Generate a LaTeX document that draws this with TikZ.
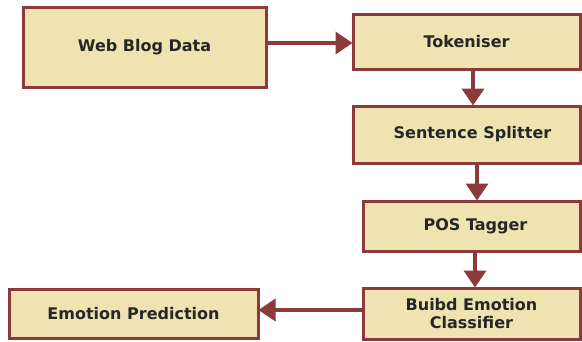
\documentclass[tikz,border=0pt]{standalone}
\usepackage{fontspec}
\setmainfont{DejaVu Sans}
\usetikzlibrary{arrows.meta}
\definecolor{boxfill}{HTML}{F0E3B2}
\definecolor{boxline}{HTML}{8C3A3C}
\tikzset{
  stage/.style={draw=boxline, fill=boxfill, line width=3pt, inner sep=0pt,
    align=center, font=\bfseries\fontsize{16}{18}\selectfont, text=black!85},
  flow/.style={draw=boxline, line width=3.8pt,
    -{Triangle[width=22pt,length=17pt]}, shorten >=-1pt}
}
\begin{document}
\begin{tikzpicture}[x=1pt,y=-1pt]
\useasboundingbox (0,0) rectangle (582,341);
\fill[white] (0,0) rectangle (582,341);
\node[stage, minimum width=243pt, minimum height=80pt] (web) at (144.5,47) {Web Blog Data};
\node[stage, minimum width=227pt, minimum height=55pt] (tok) at (466.5,41.5) {Tokeniser};
\node[stage, minimum width=227pt, minimum height=57pt] (sent) at (466.5,134.5) {\hspace*{12pt}Sentence Splitter};
\node[stage, minimum width=217pt, minimum height=50pt] (pos) at (471.5,226) {\hspace*{8pt}POS Tagger};
\node[stage, minimum width=217pt, minimum height=51pt] (cls) at (471.5,313.5) {Buibd Emotion\\Classifier};
\node[stage, minimum width=249pt, minimum height=49pt] (pred) at (133.5,313.5) {Emotion Prediction};
\draw[flow] ([yshift=4pt]web.east) -- ([yshift=4pt]web.east -| tok.west);
\draw[flow] ([xshift=6.5pt]tok.south) -- ([xshift=6.5pt]tok.south |- sent.north);
\draw[flow] ([xshift=10.5pt]sent.south) -- ([xshift=10.5pt]sent.south |- pos.north);
\draw[flow] ([xshift=3.5pt]pos.south) -- ([xshift=3.5pt]pos.south |- cls.north);
\draw[flow] ([yshift=3.5pt]cls.west) -- ([yshift=3.5pt]cls.west -| pred.east);
\end{tikzpicture}
\end{document}
